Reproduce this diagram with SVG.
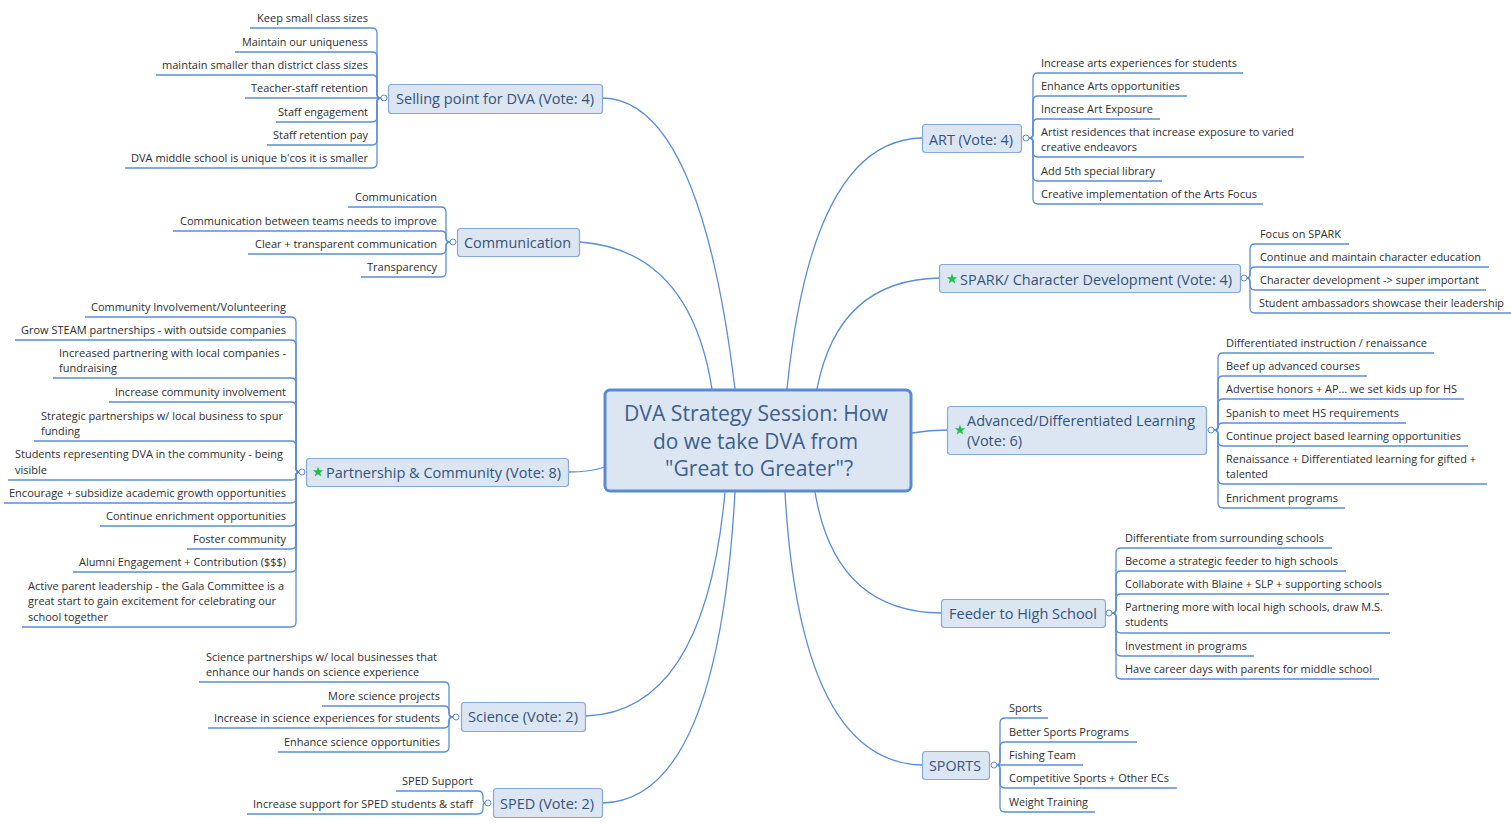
<svg xmlns="http://www.w3.org/2000/svg" width="1511" height="825" viewBox="0 0 1511 825">
<style>
.ln{fill:none;stroke:#5b8ed6;stroke-width:1.3}
.box{fill:#dce6f2;stroke:#86a9dc;stroke-width:1.2}
.cbox{fill:#dce6f2;stroke:#5a8bd2;stroke-width:3}
.dot{fill:#fff;stroke:#5b8ed6;stroke-width:1}
text{font-family:"Open Sans","Noto Sans","Liberation Sans",sans-serif}
.t{font-size:11.5px;fill:#2e2e2e}
.e{text-anchor:end}
.tt{font-size:15px;fill:#34527a}
.ct{font-size:21px;fill:#3d5f8c}
.star{fill:#1dc24a}
</style>
<defs>
<path id="star" d="M0,-5.5 L1.35,-1.86 L5.23,-1.7 L2.19,0.71 L3.23,4.45 L0,2.3 L-3.23,4.45 L-2.19,0.71 L-5.23,-1.7 L-1.35,-1.86 Z"/>
</defs>
<rect width="1511" height="825" fill="#fff"/>
<g id="connectors">
<path class="ln" d="M603,98 Q700,100 735,389"/>
<path class="ln" d="M580,242 Q690,250 712,389"/>
<path class="ln" d="M569,472 Q590,472 605,467"/>
<path class="ln" d="M586,716 Q705,712 725,492"/>
<path class="ln" d="M603,803 Q718,800 735,492"/>
<path class="ln" d="M922,138 Q812,140 787,389"/>
<path class="ln" d="M939,278 Q838,280 817,389"/>
<path class="ln" d="M947,430 Q930,430 912,433"/>
<path class="ln" d="M941,613 Q835,612 815,492"/>
<path class="ln" d="M922,765 Q800,762 785,492"/>
<!-- Selling -->
<path class="ln" d="M250,28 H372 Q377,28 377,33 V94 Q377,98 381,98"/>
<path class="ln" d="M235,52 H372 Q377,52 377,57 V94 Q377,98 381,98"/>
<path class="ln" d="M156,75 H372 Q377,75 377,80 V94 Q377,98 381,98"/>
<path class="ln" d="M245,98 H381"/>
<path class="ln" d="M276,122 H372 Q377,122 377,117 V102 Q377,98 381,98"/>
<path class="ln" d="M267,145 H372 Q377,145 377,140 V102 Q377,98 381,98"/>
<path class="ln" d="M125,168 H372 Q377,168 377,163 V102 Q377,98 381,98"/>
<!-- Communication -->
<path class="ln" d="M348,207 H441 Q446,207 446,212 V238 Q446,242 450,242"/>
<path class="ln" d="M173,231 H441 Q446,231 446,236 V238 Q446,242 450,242"/>
<path class="ln" d="M248,254 H441 Q446,254 446,249 V246 Q446,242 450,242"/>
<path class="ln" d="M361,277 H441 Q446,277 446,272 V246 Q446,242 450,242"/>
<!-- Partnership -->
<path class="ln" d="M85,317 H291 Q296,317 296,322 V468 Q296,472 299,472"/>
<path class="ln" d="M15,340 H291 Q296,340 296,345 V468 Q296,472 299,472"/>
<path class="ln" d="M53,378 H291 Q296,378 296,383 V468 Q296,472 299,472"/>
<path class="ln" d="M109,402 H291 Q296,402 296,407 V468 Q296,472 299,472"/>
<path class="ln" d="M34,441 H291 Q296,441 296,446 V468 Q296,472 299,472"/>
<path class="ln" d="M8,480 H292 Q296,480 296,476 Q296,472 299,472"/>
<path class="ln" d="M4,503 H291 Q296,503 296,498 V476 Q296,472 299,472"/>
<path class="ln" d="M100,526 H291 Q296,526 296,521 V476 Q296,472 299,472"/>
<path class="ln" d="M187,549 H291 Q296,549 296,544 V476 Q296,472 299,472"/>
<path class="ln" d="M73,572 H291 Q296,572 296,567 V476 Q296,472 299,472"/>
<path class="ln" d="M22,627 H291 Q296,627 296,622 V476 Q296,472 299,472"/>
<!-- Science -->
<path class="ln" d="M199,682 H444 Q449,682 449,687 V713 Q449,717 453,717"/>
<path class="ln" d="M322,706 H444 Q449,706 449,711 V713 Q449,717 453,717"/>
<path class="ln" d="M208,728 H444 Q449,728 449,723 V721 Q449,717 453,717"/>
<path class="ln" d="M278,752 H444 Q449,752 449,747 V721 Q449,717 453,717"/>
<!-- SPED -->
<path class="ln" d="M396,791 H478 Q483,791 483,796 V799 Q483,803 485,803"/>
<path class="ln" d="M247,814 H478 Q483,814 483,809 V807 Q483,803 485,803"/>
<!-- ART -->
<path class="ln" d="M1243,73 H1038 Q1033,73 1033,78 V134 Q1033,138 1029,138"/>
<path class="ln" d="M1187,96 H1038 Q1033,96 1033,101 V134 Q1033,138 1029,138"/>
<path class="ln" d="M1160,119 H1038 Q1033,119 1033,124 V134 Q1033,138 1029,138"/>
<path class="ln" d="M1304,157 H1038 Q1033,157 1033,152 V142 Q1033,138 1029,138"/>
<path class="ln" d="M1162,181 H1038 Q1033,181 1033,176 V142 Q1033,138 1029,138"/>
<path class="ln" d="M1263,204 H1038 Q1033,204 1033,199 V142 Q1033,138 1029,138"/>
<!-- SPARK -->
<path class="ln" d="M1349,244 H1255 Q1250,244 1250,249 V274 Q1250,278 1247,278"/>
<path class="ln" d="M1489,267 H1255 Q1250,267 1250,272 V274 Q1250,278 1247,278"/>
<path class="ln" d="M1486,290 H1255 Q1250,290 1250,285 V282 Q1250,278 1247,278"/>
<path class="ln" d="M1511,313 H1255 Q1250,313 1250,308 V282 Q1250,278 1247,278"/>
<!-- Advanced -->
<path class="ln" d="M1434,353 H1223 Q1218,353 1218,358 V426 Q1218,430 1214,430"/>
<path class="ln" d="M1367,376 H1223 Q1218,376 1218,381 V426 Q1218,430 1214,430"/>
<path class="ln" d="M1464,399 H1223 Q1218,399 1218,404 V426 Q1218,430 1214,430"/>
<path class="ln" d="M1406,423 H1223 Q1218,423 1218,428 Q1218,430 1214,430"/>
<path class="ln" d="M1468,446 H1223 Q1218,446 1218,441 V434 Q1218,430 1214,430"/>
<path class="ln" d="M1487,484 H1223 Q1218,484 1218,479 V434 Q1218,430 1214,430"/>
<path class="ln" d="M1345,508 H1223 Q1218,508 1218,503 V434 Q1218,430 1214,430"/>
<!-- Feeder -->
<path class="ln" d="M1332,548 H1121 Q1116,548 1116,553 V609 Q1116,613 1112,613"/>
<path class="ln" d="M1346,571 H1121 Q1116,571 1116,576 V609 Q1116,613 1112,613"/>
<path class="ln" d="M1389,594 H1121 Q1116,594 1116,599 V609 Q1116,613 1112,613"/>
<path class="ln" d="M1390,633 H1121 Q1116,633 1116,628 V617 Q1116,613 1112,613"/>
<path class="ln" d="M1254,656 H1121 Q1116,656 1116,651 V617 Q1116,613 1112,613"/>
<path class="ln" d="M1379,679 H1121 Q1116,679 1116,674 V617 Q1116,613 1112,613"/>
<!-- Sports -->
<path class="ln" d="M1048,718 H1005 Q1000,718 1000,723 V761 Q1000,765 997,765"/>
<path class="ln" d="M1137,742 H1005 Q1000,742 1000,747 V761 Q1000,765 997,765"/>
<path class="ln" d="M1083,765 H997"/>
<path class="ln" d="M1177,788 H1005 Q1000,788 1000,783 V769 Q1000,765 997,765"/>
<path class="ln" d="M1095,812 H1005 Q1000,812 1000,807 V769 Q1000,765 997,765"/>
</g>

<g id="center">
<rect class="cbox" x="605" y="390" width="306" height="101" rx="5"/>
<text class="ct" x="624" y="421" textLength="264" lengthAdjust="spacingAndGlyphs">DVA Strategy Session: How</text>
<text class="ct" x="653" y="448.5" textLength="205" lengthAdjust="spacingAndGlyphs">do we take DVA from</text>
<text class="ct" x="665" y="476" textLength="188" lengthAdjust="spacingAndGlyphs">"Great to Greater"?</text>
</g>

<g id="selling">
<rect class="box" x="388.5" y="84.5" width="214" height="29" rx="3"/>
<text class="tt" x="396" y="104" textLength="198" lengthAdjust="spacingAndGlyphs">Selling point for DVA (Vote: 4)</text>
<circle class="dot" cx="384" cy="98" r="3"/>
<g id="s1"><text class="t e" x="368" y="22" textLength="111" lengthAdjust="spacingAndGlyphs">Keep small class sizes</text></g>
<g id="s2"><text class="t e" x="368" y="46" textLength="126" lengthAdjust="spacingAndGlyphs">Maintain our uniqueness</text></g>
<g id="s3"><text class="t e" x="368" y="69" textLength="206" lengthAdjust="spacingAndGlyphs">maintain smaller than district class sizes</text></g>
<g id="s4"><text class="t e" x="368" y="92" textLength="117" lengthAdjust="spacingAndGlyphs">Teacher-staff retention</text></g>
<g id="s5"><text class="t e" x="368" y="116" textLength="90" lengthAdjust="spacingAndGlyphs">Staff engagement</text></g>
<g id="s6"><text class="t e" x="368" y="139" textLength="95" lengthAdjust="spacingAndGlyphs">Staff retention pay</text></g>
<g id="s7"><text class="t e" x="368" y="162" textLength="237" lengthAdjust="spacingAndGlyphs">DVA middle school is unique b'cos it is smaller</text></g>
</g>

<g id="communication">
<rect class="box" x="457.5" y="228.5" width="122" height="28" rx="3"/>
<text class="tt" x="464" y="248" textLength="107" lengthAdjust="spacingAndGlyphs">Communication</text>
<circle class="dot" cx="453" cy="242" r="3"/>
<g id="c1"><text class="t e" x="437" y="201" textLength="82" lengthAdjust="spacingAndGlyphs">Communication</text></g>
<g id="c2"><text class="t e" x="437" y="225" textLength="257" lengthAdjust="spacingAndGlyphs">Communication between teams needs to improve</text></g>
<g id="c3"><text class="t e" x="437" y="248" textLength="182" lengthAdjust="spacingAndGlyphs">Clear + transparent communication</text></g>
<g id="c4"><text class="t e" x="437" y="271" textLength="70" lengthAdjust="spacingAndGlyphs">Transparency</text></g>
</g>

<g id="partnership">
<rect class="box" x="306.5" y="458.5" width="262" height="28" rx="3"/>
<use href="#star" class="star" x="318" y="472"/>
<text class="tt" x="326" y="478" textLength="235" lengthAdjust="spacingAndGlyphs">Partnership &amp; Community (Vote: 8)</text>
<circle class="dot" cx="302" cy="472" r="3"/>
<g id="p1"><text class="t e" x="286" y="311" textLength="195" lengthAdjust="spacingAndGlyphs">Community Involvement/Volunteering</text></g>
<g id="p2"><text class="t e" x="286" y="334" textLength="265" lengthAdjust="spacingAndGlyphs">Grow STEAM partnerships - with outside companies</text></g>
<g id="p3"><text class="t" x="59" y="357" textLength="227" lengthAdjust="spacingAndGlyphs">Increased partnering with local companies -</text><text class="t" x="59" y="372" textLength="58" lengthAdjust="spacingAndGlyphs">fundraising</text></g>
<g id="p4"><text class="t e" x="286" y="396" textLength="171" lengthAdjust="spacingAndGlyphs">Increase community involvement</text></g>
<g id="p5"><text class="t" x="41" y="420" textLength="242" lengthAdjust="spacingAndGlyphs">Strategic partnerships w/ local business to spur</text><text class="t" x="41" y="435" textLength="39" lengthAdjust="spacingAndGlyphs">funding</text></g>
<g id="p6"><text class="t" x="15" y="458" textLength="268" lengthAdjust="spacingAndGlyphs">Students representing DVA in the community - being</text><text class="t" x="15" y="474" textLength="32" lengthAdjust="spacingAndGlyphs">visible</text></g>
<g id="p7"><text class="t e" x="286" y="497" textLength="277" lengthAdjust="spacingAndGlyphs">Encourage + subsidize academic growth opportunities</text></g>
<g id="p8"><text class="t e" x="286" y="520" textLength="180" lengthAdjust="spacingAndGlyphs">Continue enrichment opportunities</text></g>
<g id="p9"><text class="t e" x="286" y="543" textLength="93" lengthAdjust="spacingAndGlyphs">Foster community</text></g>
<g id="p10"><text class="t e" x="286" y="566" textLength="207" lengthAdjust="spacingAndGlyphs">Alumni Engagement + Contribution ($$$)</text></g>
<g id="p11"><text class="t" x="28" y="590" textLength="256" lengthAdjust="spacingAndGlyphs">Active parent leadership - the Gala Committee is a</text><text class="t" x="28" y="605" textLength="248" lengthAdjust="spacingAndGlyphs">great start to gain excitement for celebrating our</text><text class="t" x="28" y="621" textLength="80" lengthAdjust="spacingAndGlyphs">school together</text></g>
</g>

<g id="science">
<rect class="box" x="461.5" y="702.5" width="124" height="29" rx="3"/>
<text class="tt" x="468" y="722" textLength="110" lengthAdjust="spacingAndGlyphs">Science (Vote: 2)</text>
<circle class="dot" cx="456" cy="717" r="3"/>
<g id="sc1"><text class="t" x="206" y="661" textLength="231" lengthAdjust="spacingAndGlyphs">Science partnerships w/ local businesses that</text><text class="t" x="206" y="676" textLength="213" lengthAdjust="spacingAndGlyphs">enhance our hands on science experience</text></g>
<g id="sc2"><text class="t e" x="440" y="700" textLength="112" lengthAdjust="spacingAndGlyphs">More science projects</text></g>
<g id="sc3"><text class="t e" x="440" y="722" textLength="226" lengthAdjust="spacingAndGlyphs">Increase in science experiences for students</text></g>
<g id="sc4"><text class="t e" x="440" y="746" textLength="156" lengthAdjust="spacingAndGlyphs">Enhance science opportunities</text></g>
</g>

<g id="sped">
<rect class="box" x="493.5" y="788.5" width="109" height="29" rx="3"/>
<text class="tt" x="500" y="809" textLength="94" lengthAdjust="spacingAndGlyphs">SPED (Vote: 2)</text>
<circle class="dot" cx="488" cy="803" r="3"/>
<g id="sp1"><text class="t e" x="473" y="785" textLength="71" lengthAdjust="spacingAndGlyphs">SPED Support</text></g>
<g id="sp2"><text class="t e" x="473" y="808" textLength="220" lengthAdjust="spacingAndGlyphs">Increase support for SPED students &amp; staff</text></g>
</g>

<g id="art">
<rect class="box" x="922.5" y="124.5" width="99" height="28" rx="3"/>
<text class="tt" x="929" y="144.5" textLength="84" lengthAdjust="spacingAndGlyphs">ART (Vote: 4)</text>
<circle class="dot" cx="1026" cy="138" r="3"/>
<g id="a1"><text class="t" x="1041" y="67" textLength="196" lengthAdjust="spacingAndGlyphs">Increase arts experiences for students</text></g>
<g id="a2"><text class="t" x="1041" y="90" textLength="139" lengthAdjust="spacingAndGlyphs">Enhance Arts opportunities</text></g>
<g id="a3"><text class="t" x="1041" y="113" textLength="112" lengthAdjust="spacingAndGlyphs">Increase Art Exposure</text></g>
<g id="a4"><text class="t" x="1041" y="136" textLength="253" lengthAdjust="spacingAndGlyphs">Artist residences that increase exposure to varied</text><text class="t" x="1041" y="151" textLength="96" lengthAdjust="spacingAndGlyphs">creative endeavors</text></g>
<g id="a5"><text class="t" x="1041" y="175" textLength="114" lengthAdjust="spacingAndGlyphs">Add 5th special library</text></g>
<g id="a6"><text class="t" x="1041" y="198" textLength="216" lengthAdjust="spacingAndGlyphs">Creative implementation of the Arts Focus</text></g>
</g>

<g id="spark">
<rect class="box" x="939.5" y="264.5" width="301" height="28" rx="3"/>
<use href="#star" class="star" x="952" y="279"/>
<text class="tt" x="960" y="284.5" textLength="272" lengthAdjust="spacingAndGlyphs">SPARK/ Character Development (Vote: 4)</text>
<circle class="dot" cx="1244" cy="278" r="3"/>
<g id="k1"><text class="t" x="1260" y="238" textLength="81" lengthAdjust="spacingAndGlyphs">Focus on SPARK</text></g>
<g id="k2"><text class="t" x="1260" y="261" textLength="221" lengthAdjust="spacingAndGlyphs">Continue and maintain character education</text></g>
<g id="k3"><text class="t" x="1260" y="284" textLength="219" lengthAdjust="spacingAndGlyphs">Character development -&gt; super important</text></g>
<g id="k4"><text class="t" x="1259" y="307" textLength="245" lengthAdjust="spacingAndGlyphs">Student ambassadors showcase their leadership</text></g>
</g>

<g id="advanced">
<rect class="box" x="947.5" y="406.5" width="259" height="48" rx="3"/>
<use href="#star" class="star" x="960" y="430"/>
<text class="tt" x="967" y="426" textLength="228" lengthAdjust="spacingAndGlyphs">Advanced/Differentiated Learning</text>
<text class="tt" x="967" y="446" textLength="55" lengthAdjust="spacingAndGlyphs">(Vote: 6)</text>
<circle class="dot" cx="1211" cy="430" r="3"/>
<g id="d1"><text class="t" x="1226" y="347" textLength="201" lengthAdjust="spacingAndGlyphs">Differentiated instruction / renaissance</text></g>
<g id="d2"><text class="t" x="1226" y="370" textLength="134" lengthAdjust="spacingAndGlyphs">Beef up advanced courses</text></g>
<g id="d3"><text class="t" x="1226" y="393" textLength="231" lengthAdjust="spacingAndGlyphs">Advertise honors + AP... we set kids up for HS</text></g>
<g id="d4"><text class="t" x="1226" y="417" textLength="173" lengthAdjust="spacingAndGlyphs">Spanish to meet HS requirements</text></g>
<g id="d5"><text class="t" x="1226" y="440" textLength="235" lengthAdjust="spacingAndGlyphs">Continue project based learning opportunities</text></g>
<g id="d6"><text class="t" x="1226" y="463" textLength="250" lengthAdjust="spacingAndGlyphs">Renaissance + Differentiated learning for gifted +</text><text class="t" x="1226" y="478" textLength="42" lengthAdjust="spacingAndGlyphs">talented</text></g>
<g id="d7"><text class="t" x="1226" y="502" textLength="112" lengthAdjust="spacingAndGlyphs">Enrichment programs</text></g>
</g>

<g id="feeder">
<rect class="box" x="941.5" y="599.5" width="164" height="28" rx="3"/>
<text class="tt" x="949" y="618.5" textLength="148" lengthAdjust="spacingAndGlyphs">Feeder to High School</text>
<circle class="dot" cx="1109" cy="613" r="3"/>
<g id="f1"><text class="t" x="1125" y="542" textLength="199" lengthAdjust="spacingAndGlyphs">Differentiate from surrounding schools</text></g>
<g id="f2"><text class="t" x="1125" y="565" textLength="213" lengthAdjust="spacingAndGlyphs">Become a strategic feeder to high schools</text></g>
<g id="f3"><text class="t" x="1125" y="588" textLength="257" lengthAdjust="spacingAndGlyphs">Collaborate with Blaine + SLP + supporting schools</text></g>
<g id="f4"><text class="t" x="1125" y="611" textLength="258" lengthAdjust="spacingAndGlyphs">Partnering more with local high schools, draw M.S.</text><text class="t" x="1125" y="626" textLength="43" lengthAdjust="spacingAndGlyphs">students</text></g>
<g id="f5"><text class="t" x="1125" y="650" textLength="122" lengthAdjust="spacingAndGlyphs">Investment in programs</text></g>
<g id="f6"><text class="t" x="1125" y="673" textLength="247" lengthAdjust="spacingAndGlyphs">Have career days with parents for middle school</text></g>
</g>

<g id="sports">
<rect class="box" x="922.5" y="751.5" width="67" height="28" rx="3"/>
<text class="tt" x="929" y="771" textLength="52" lengthAdjust="spacingAndGlyphs">SPORTS</text>
<circle class="dot" cx="994" cy="765" r="3"/>
<g id="o1"><text class="t" x="1009" y="712" textLength="33" lengthAdjust="spacingAndGlyphs">Sports</text></g>
<g id="o2"><text class="t" x="1009" y="736" textLength="120" lengthAdjust="spacingAndGlyphs">Better Sports Programs</text></g>
<g id="o3"><text class="t" x="1009" y="759" textLength="67" lengthAdjust="spacingAndGlyphs">Fishing Team</text></g>
<g id="o4"><text class="t" x="1009" y="782" textLength="160" lengthAdjust="spacingAndGlyphs">Competitive Sports + Other ECs</text></g>
<g id="o5"><text class="t" x="1009" y="806" textLength="79" lengthAdjust="spacingAndGlyphs">Weight Training</text></g>
</g>
</svg>
